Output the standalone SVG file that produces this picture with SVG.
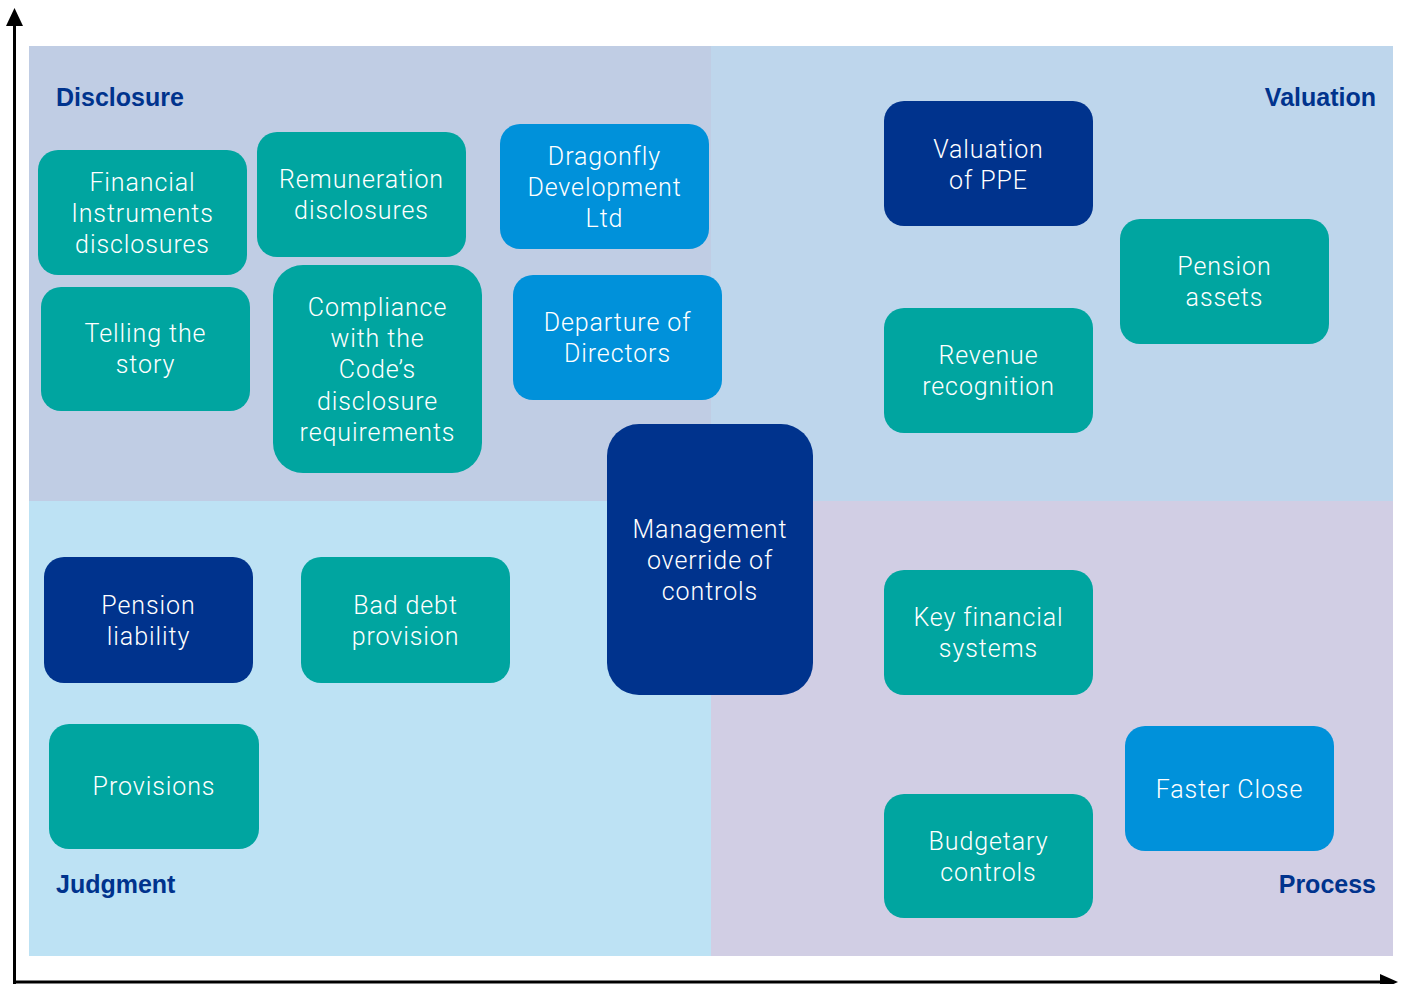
<svg xmlns="http://www.w3.org/2000/svg" width="1403" height="984" viewBox="0 0 1403 984">
<style>
.t{fill:#00a5a0}.l{fill:#0091da}.d{fill:#00338d}
.n text{font-family:Roboto,"Liberation Sans",sans-serif;font-weight:300;font-size:25px;letter-spacing:0.9px;fill:#ffffff;text-anchor:middle}
.h{font-family:"Liberation Sans",Arial,sans-serif;font-weight:bold;font-size:25px;fill:#00338d}
</style>
<rect width="1403" height="984" fill="#ffffff"/>
<g id="quadrants">
<rect x="29" y="46" width="682" height="455" fill="#c0cde4"/>
<rect x="711" y="46" width="682" height="455" fill="#bed6ec"/>
<rect x="29" y="501" width="682" height="455" fill="#bde2f4"/>
<rect x="711" y="501" width="682" height="455" fill="#d1cee4"/>
</g>
<g id="axes">
<line x1="14.5" y1="984" x2="14.5" y2="22" stroke="#000" stroke-width="3"/>
<polygon points="6,26 14.5,8 23,26" fill="#000"/>
<line x1="13" y1="982" x2="1384" y2="982" stroke="#000" stroke-width="3"/>
<polygon points="1380,974 1398,982 1380,990" fill="#000"/>
</g>
<g id="headings">
<text class="h" x="56" y="106">Disclosure</text>
<text class="h" x="1376" y="106" text-anchor="end">Valuation</text>
<text class="h" x="56" y="893">Judgment</text>
<text class="h" x="1376" y="893" text-anchor="end">Process</text>
</g>
<g id="connectors"></g>
<g id="n1" class="n"><rect class="t" x="38" y="150" width="209" height="125" rx="20"/><text x="142.5" y="191">Financial</text><text x="142.5" y="222">Instruments</text><text x="142.5" y="253">disclosures</text></g>
<g id="n2" class="n"><rect class="t" x="257" y="132" width="209" height="125" rx="20"/><text x="361.5" y="188">Remuneration</text><text x="361.5" y="219">disclosures</text></g>
<g id="n3" class="n"><rect class="l" x="500" y="124" width="209" height="125" rx="20"/><text x="604.5" y="165">Dragonfly</text><text x="604.5" y="196">Development</text><text x="604.5" y="227">Ltd</text></g>
<g id="n4" class="n"><rect class="t" x="41" y="287" width="209" height="124" rx="20"/><text x="145.5" y="342">Telling the</text><text x="145.5" y="373">story</text></g>
<g id="n5" class="n"><rect class="t" x="273" y="265" width="209" height="208" rx="30"/><text x="377.5" y="316">Compliance</text><text x="377.5" y="347">with the</text><text x="377.5" y="378">Code’s</text><text x="377.5" y="410">disclosure</text><text x="377.5" y="441">requirements</text></g>
<g id="n6" class="n"><rect class="l" x="513" y="275" width="209" height="125" rx="20"/><text x="617.5" y="331">Departure of</text><text x="617.5" y="362">Directors</text></g>
<g id="n7" class="n"><rect class="d" x="884" y="101" width="209" height="125" rx="20"/><text x="988.5" y="158">Valuation</text><text x="988.5" y="189">of PPE</text></g>
<g id="n8" class="n"><rect class="t" x="1120" y="219" width="209" height="125" rx="20"/><text x="1224.5" y="275">Pension</text><text x="1224.5" y="306">assets</text></g>
<g id="n9" class="n"><rect class="t" x="884" y="308" width="209" height="125" rx="20"/><text x="988.5" y="364">Revenue</text><text x="988.5" y="395">recognition</text></g>
<g id="n10" class="n"><rect class="d" x="607" y="424" width="206" height="271" rx="32"/><text x="710" y="538">Management</text><text x="710" y="569">override of</text><text x="710" y="600">controls</text></g>
<g id="n11" class="n"><rect class="d" x="44" y="557" width="209" height="126" rx="20"/><text x="148.5" y="614">Pension</text><text x="148.5" y="645">liability</text></g>
<g id="n12" class="n"><rect class="t" x="301" y="557" width="209" height="126" rx="20"/><text x="405.5" y="614">Bad debt</text><text x="405.5" y="645">provision</text></g>
<g id="n13" class="n"><rect class="t" x="884" y="570" width="209" height="125" rx="20"/><text x="988.5" y="626">Key financial</text><text x="988.5" y="657">systems</text></g>
<g id="n14" class="n"><rect class="t" x="49" y="724" width="210" height="125" rx="20"/><text x="154" y="795">Provisions</text></g>
<g id="n15" class="n"><rect class="l" x="1125" y="726" width="209" height="125" rx="20"/><text x="1229.5" y="798">Faster Close</text></g>
<g id="n16" class="n"><rect class="t" x="884" y="794" width="209" height="124" rx="20"/><text x="988.5" y="850">Budgetary</text><text x="988.5" y="881">controls</text></g>
</svg>
